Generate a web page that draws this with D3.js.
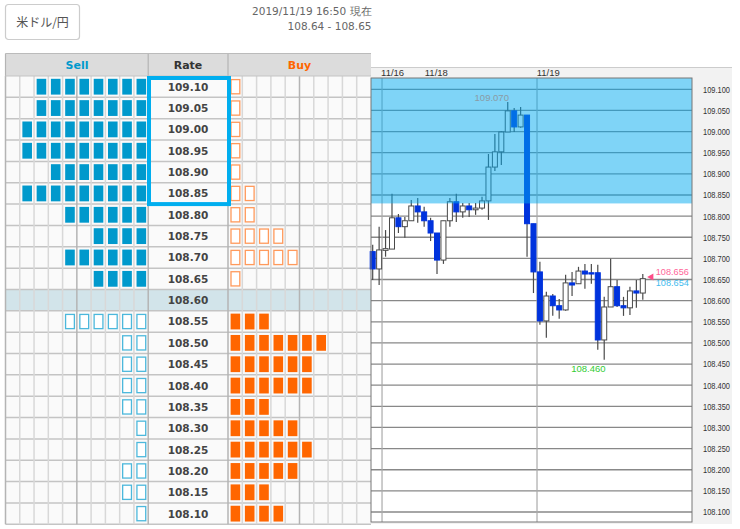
<!DOCTYPE html>
<html>
<head>
<meta charset="utf-8">
<script src="https://cdn.jsdelivr.net/npm/d3@7"></script>
<style>
html, body { margin: 0; padding: 0; background: #fff; overflow: hidden; }
svg { display: block; font-family: "DejaVu Sans", sans-serif; }
</style>
</head>
<body>
<script>
'use strict'

let rates = ['109.10', '109.05', '109.00', '108.95', '108.90', '108.85', '108.80', '108.75', '108.70', '108.65', '108.60',
    '108.55', '108.50', '108.45', '108.40', '108.35', '108.30', '108.25', '108.20', '108.15', '108.10']
let sellCounts = [8, 8, 9, 9, 7, 9, 6, 4, 6, 4, 0, 6, 2, 2, 2, 2, 1, 1, 2, 2, 1]
let buyCounts = [1, 1, 1, 1, 1, 2, 2, 4, 5, 1, 0, 3, 7, 6, 6, 3, 5, 6, 5, 3, 4]
let currentRate = '108.60'
let boxedRates = ['109.10', '109.05', '109.00', '108.95', '108.90', '108.85']

let candleOpen = [108.716, 108.675, 108.719, 108.722, 108.796, 108.775, 108.789, 108.824, 108.810, 108.789, 108.760,
    108.696, 108.789, 108.834, 108.810, 108.824, 108.815, 108.819, 108.836, 108.916, 108.952, 108.999, 109.049, 109.011,
    109.039, 108.782, 108.668, 108.552, 108.611, 108.588, 108.578, 108.642, 108.640, 108.670, 108.666, 108.666, 108.507,
    108.585, 108.633, 108.588, 108.583, 108.623, 108.618]
let candleClose = [108.675, 108.720, 108.723, 108.796, 108.775, 108.789, 108.824, 108.810, 108.789, 108.760, 108.696,
    108.789, 108.834, 108.810, 108.824, 108.815, 108.819, 108.836, 108.916, 108.952, 108.999, 109.049, 109.011, 109.039,
    108.782, 108.668, 108.552, 108.611, 108.588, 108.578, 108.642, 108.637, 108.670, 108.663, 108.663, 108.507, 108.585,
    108.633, 108.588, 108.583, 108.623, 108.618, 108.652]
let candleHigh = [108.732, 108.775, 108.767, 108.853, 108.805, 108.798, 108.838, 108.843, 108.822, 108.796, 108.760,
    108.789, 108.843, 108.853, 108.831, 108.831, 108.831, 108.846, 108.947, 108.994, 109.001, 109.070, 109.056, 109.058,
    109.039, 108.782, 108.692, 108.621, 108.616, 108.604, 108.661, 108.668, 108.680, 108.687, 108.687, 108.685, 108.609,
    108.699, 108.649, 108.609, 108.633, 108.649, 108.663]
let candleLow = [108.649, 108.637, 108.704, 108.722, 108.760, 108.749, 108.789, 108.784, 108.775, 108.741, 108.663,
    108.687, 108.775, 108.786, 108.796, 108.798, 108.803, 108.815, 108.791, 108.907, 108.921, 108.999, 108.999, 109.009,
    108.704, 108.618, 108.543, 108.512, 108.564, 108.557, 108.576, 108.611, 108.640, 108.628, 108.640, 108.484, 108.460,
    108.585, 108.585, 108.564, 108.566, 108.583, 108.602]

let axisTicks = d3.range(109.1, 108.05, -0.05).map((d) => +d.toFixed(2))
let dateLabels = ['11/16', '11/18', '11/19']
let dateIndex = [1.3, 8.1, 25.5]
let dateLines = [1.45, 25.55]
let bandFloor = 108.83
let highLabel = 109.070, lowLabel = 108.460
let askPrice = 108.656, bidPrice = 108.654

let width = 740, height = 529

let svg = d3.select('body').append('svg')
    .attr('width', width)
    .attr('height', height)

// ---- top header
svg.append('rect')
    .attr('x', 5.5).attr('y', 4.5).attr('width', 74).attr('height', 35).attr('rx', 3)
    .attr('fill', '#fff').attr('stroke', '#ccc').attr('stroke-width', 1.2)
svg.append('text')
    .attr('x', 42.5).attr('y', 27).attr('text-anchor', 'middle')
    .attr('font-size', 12).attr('fill', '#555')
    .style('font-family', '"Noto Sans CJK JP", sans-serif')
    .text('米ドル/円')
svg.append('text')
    .attr('x', 371.5).attr('y', 15).attr('text-anchor', 'end')
    .attr('font-size', 10.5).attr('fill', '#666')
    .text('2019/11/19 16:50 現在')
svg.append('text')
    .attr('x', 371.5).attr('y', 30).attr('text-anchor', 'end')
    .attr('font-size', 10.5).attr('fill', '#666')
    .text('108.64 - 108.65')

// ---- order table
let rowY = d3.scaleBand().domain(rates).range([76, 524.3])
let cellIds = d3.range(10)
let sellX = d3.scaleBand().domain(cellIds).range([5.5, 148.2])
let buyX = d3.scaleBand().domain(cellIds).range([228, 371])

let table = svg.append('g')

table.selectAll('.rowBg').data(rates).enter()
    .append('rect')
    .attr('class', 'rowBg')
    .attr('x', 5.5)
    .attr('y', (d) => rowY(d))
    .attr('width', 365.5)
    .attr('height', rowY.bandwidth())
    .attr('fill', (d) => d === currentRate ? '#d2e4ea' : '#fafafa')

table.append('rect')
    .attr('x', 5.5).attr('y', 53.5).attr('width', 365.5).attr('height', 22.5)
    .attr('fill', '#dcdcdc')

table.selectAll('.rowLine').data(rates).enter()
    .append('line')
    .attr('class', 'rowLine')
    .attr('x1', 5.5).attr('x2', 371)
    .attr('y1', (d) => rowY(d) + rowY.bandwidth())
    .attr('y2', (d) => rowY(d) + rowY.bandwidth())
    .attr('stroke', '#c4c4c4').attr('stroke-width', 1.5)

let colLines = [sellX, buyX].flatMap((x) => cellIds.map((i) => ({x: x(i), strong: i === 5 || i === 0 })))
colLines.push({x: 148.2, strong: true})

table.selectAll('.colLine').data(colLines).enter()
    .append('line')
    .attr('class', 'colLine')
    .attr('x1', (d) => d.x).attr('x2', (d) => d.x)
    .attr('y1', 76).attr('y2', 524.3)
    .attr('stroke', (d) => d.strong ? '#b4b4b4' : '#d8d8d8')
    .attr('stroke-width', 1.5)

table.selectAll('.headLine').data([5.5, 148.2, 228]).enter()
    .append('line')
    .attr('class', 'headLine')
    .attr('x1', (d) => d).attr('x2', (d) => d)
    .attr('y1', 53.5).attr('y2', 76)
    .attr('stroke', '#b4b4b4').attr('stroke-width', 1.2)
table.append('line')
    .attr('x1', 5.5).attr('x2', 371).attr('y1', 53.5).attr('y2', 53.5)
    .attr('stroke', '#bbb').attr('stroke-width', 1.2)
table.append('line')
    .attr('x1', 5.5).attr('x2', 371).attr('y1', 76).attr('y2', 76)
    .attr('stroke', '#c4c4c4').attr('stroke-width', 1.2)

let heads = [
    {text: 'Sell', x: 77, color: '#0099cc'},
    {text: 'Rate', x: 188, color: '#333'},
    {text: 'Buy', x: 299.5, color: '#ff6600'}
]
table.selectAll('.head').data(heads).enter()
    .append('text')
    .attr('class', 'head')
    .attr('x', (d) => d.x).attr('y', 69)
    .attr('text-anchor', 'middle')
    .attr('font-size', 11).attr('font-weight', 'bold')
    .attr('fill', (d) => d.color)
    .text((d) => d.text)

table.selectAll('.rate').data(rates).enter()
    .append('text')
    .attr('class', 'rate')
    .attr('x', 188)
    .attr('y', (d) => rowY(d) + rowY.bandwidth() / 2 + 4)
    .attr('text-anchor', 'middle')
    .attr('font-size', 10.5).attr('font-weight', 'bold')
    .attr('fill', '#444')
    .text((d) => d)

let currentIndex = rates.indexOf(currentRate)

let sellMarks = rates.flatMap((r, i) => d3.range(sellCounts[i]).map((k) => ({rate: r, cell: 9 - k, filled: i < currentIndex})))
let buyMarks = rates.flatMap((r, i) => d3.range(buyCounts[i]).map((k) => ({rate: r, cell: k, filled: i > currentIndex})))

function drawMarks(marks, x, cls, fillColor, lineColor) {
    table.selectAll('.' + cls).data(marks).enter()
        .append('rect')
        .attr('class', cls)
        .attr('x', (d) => x(d.cell) + (d.filled ? 2.6 : 3))
        .attr('y', (d) => rowY(d.rate) + (d.filled ? 2.8 : 3.6))
        .attr('width', (d) => d.filled ? 9.6 : 8.8)
        .attr('height', (d) => d.filled ? 15.8 : 14.2)
        .attr('fill', (d) => d.filled ? fillColor : '#fff')
        .attr('stroke', (d) => d.filled ? 'none' : lineColor)
        .attr('stroke-width', 1.3)
}
drawMarks(sellMarks, sellX, 'sellMark', '#0099cc', '#4cb8dc')
drawMarks(buyMarks, buyX, 'buyMark', '#ff6600', '#ff9a5c')

// ---- price chart
let y = d3.scaleLinear().domain([109.1, 108.1]).range([89.3, 512])
let x = d3.scaleLinear().domain([0, 42]).range([372.7, 642.8])
let chartLeft = 371, chartRight = 692, chartTop = 78, chartBottom = 522
let bodyWidth = 5

svg.append('rect')
    .attr('x', chartLeft).attr('y', 67.5).attr('width', 361).attr('height', 456.5)
    .attr('fill', '#f2f2f2')
svg.append('line')
    .attr('x1', chartLeft).attr('x2', 732).attr('y1', 67.5).attr('y2', 67.5)
    .attr('stroke', '#ccc').attr('stroke-width', 1)
svg.append('rect')
    .attr('x', chartLeft).attr('y', chartTop).attr('width', chartRight - chartLeft).attr('height', chartBottom - chartTop)
    .attr('fill', '#fff')

svg.selectAll('.grid').data(axisTicks).enter()
    .append('line')
    .attr('class', 'grid')
    .attr('x1', chartLeft).attr('x2', chartRight)
    .attr('y1', (d) => y(d)).attr('y2', (d) => y(d))
    .attr('stroke', '#888').attr('stroke-width', 1.3)

svg.selectAll('.dateLine').data(dateLines).enter()
    .append('line')
    .attr('class', 'dateLine')
    .attr('x1', (d) => x(d)).attr('x2', (d) => x(d))
    .attr('y1', chartTop).attr('y2', chartBottom)
    .attr('stroke', '#aaa').attr('stroke-width', 1.2)

let candles = candleOpen.map((o, i) => ({i: i, open: o, close: candleClose[i], high: candleHigh[i], low: candleLow[i]}))

svg.selectAll('.wick').data(candles).enter()
    .append('line')
    .attr('class', 'wick')
    .attr('x1', (d) => x(d.i)).attr('x2', (d) => x(d.i))
    .attr('y1', (d) => y(d.high)).attr('y2', (d) => y(d.low))
    .attr('stroke', '#4a4a4a').attr('stroke-width', 1.2)

svg.selectAll('.body').data(candles).enter()
    .append('rect')
    .attr('class', 'body')
    .attr('x', (d) => x(d.i) - bodyWidth / 2)
    .attr('y', (d) => y(Math.max(d.open, d.close)))
    .attr('width', bodyWidth)
    .attr('height', (d) => Math.max(1, Math.abs(y(d.open) - y(d.close))))
    .attr('fill', (d) => d.close < d.open ? '#0033dd' : '#fff')
    .attr('stroke', (d) => d.close < d.open ? '#0033dd' : '#4a4a4a')
    .attr('stroke-width', 1)

// band over the rates the blue box marks
svg.append('rect')
    .attr('x', chartLeft).attr('y', chartTop)
    .attr('width', chartRight - chartLeft)
    .attr('height', y(bandFloor) - chartTop)
    .attr('fill', 'rgb(0,170,240)').attr('fill-opacity', 0.5)

svg.append('text')
    .attr('x', x(21) - 16).attr('y', y(highLabel) - 0.5)
    .attr('text-anchor', 'middle')
    .attr('font-size', 9.5).attr('fill', '#8a9ba5')
    .style('font-family', '"Liberation Sans", sans-serif')
    .text(highLabel.toFixed(3))

svg.append('rect')
    .attr('x', chartLeft).attr('y', chartTop).attr('width', chartRight - chartLeft).attr('height', chartBottom - chartTop)
    .attr('fill', 'none').attr('stroke', '#777').attr('stroke-width', 1)

svg.selectAll('.dateText').data(dateLabels).enter()
    .append('text')
    .attr('class', 'dateText')
    .attr('x', (d, i) => x(dateIndex[i]))
    .attr('y', 76)
    .attr('font-size', 9.5).attr('fill', '#333')
    .style('font-family', '"Liberation Sans", sans-serif')
    .text((d) => d)

let axis = d3.axisRight(y).tickValues(axisTicks).tickSize(0).tickPadding(0).tickFormat(d3.format('.3f'))
let axisG = svg.append('g')
    .attr('transform', 'translate(703,0)')
    .call(axis)
axisG.select('.domain').remove()
axisG.selectAll('text')
    .attr('fill', '#333')
    .attr('font-size', 9)
    .attr('textLength', 27)
    .attr('lengthAdjust', 'spacingAndGlyphs')
    .style('font-family', '"Liberation Sans", sans-serif')

svg.append('text')
    .attr('x', x(36) - 33).attr('y', y(lowLabel) + 12)
    .attr('font-size', 9.5).attr('fill', '#33cc33')
    .style('font-family', '"Liberation Sans", sans-serif')
    .text(lowLabel.toFixed(3))

let triangle = d3.symbol().type(d3.symbolTriangle).size(22)
svg.append('path')
    .attr('d', triangle())
    .attr('transform', 'translate(' + (x(42) + 8.5) + ',' + y(askPrice) + ') rotate(-90)')
    .attr('fill', '#ff4d88')

svg.append('text')
    .attr('x', x(42) + 13).attr('y', y(askPrice) - 1.5)
    .attr('font-size', 8.8).attr('textLength', 33).attr('lengthAdjust', 'spacingAndGlyphs')
    .attr('fill', '#ff6699')
    .style('font-family', '"Liberation Sans", sans-serif')
    .text(askPrice.toFixed(3))
svg.append('text')
    .attr('x', x(42) + 13).attr('y', y(bidPrice) + 8.5)
    .attr('font-size', 8.8).attr('textLength', 33).attr('lengthAdjust', 'spacingAndGlyphs')
    .attr('fill', '#44bbee')
    .style('font-family', '"Liberation Sans", sans-serif')
    .text(bidPrice.toFixed(3))

// ---- box round the rate cells
svg.append('rect')
    .attr('x', 149).attr('y', rowY(boxedRates[0]) + 2)
    .attr('width', 80)
    .attr('height', rowY.bandwidth() * boxedRates.length - 2)
    .attr('fill', 'none')
    .attr('stroke', '#00aeef')
    .attr('stroke-width', 4)
</script>
</body>
</html>
